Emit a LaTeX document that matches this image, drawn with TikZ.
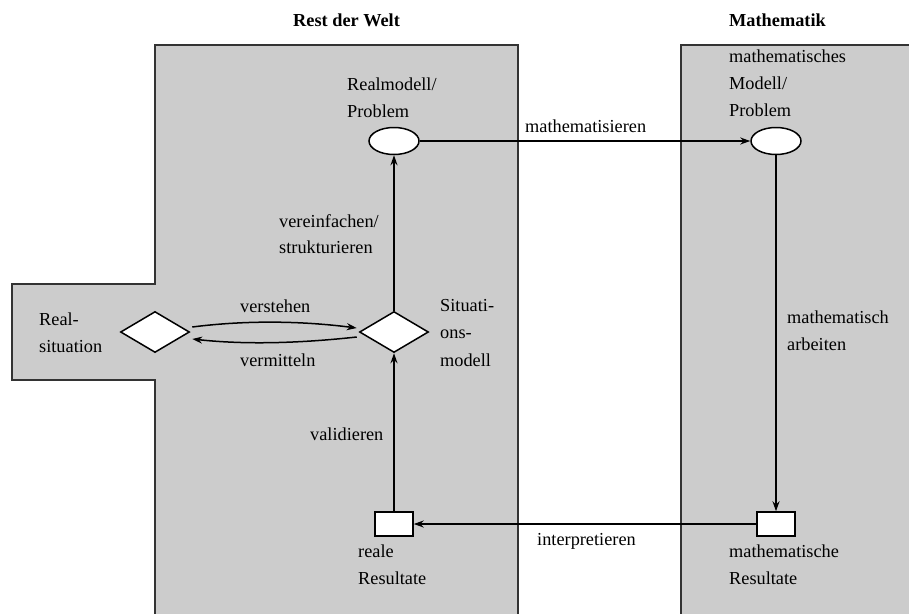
\documentclass[tikz,border=0pt]{standalone}
\usepackage{fontspec}
\setmainfont{Liberation Serif}
\usetikzlibrary{shapes.geometric,arrows.meta,calc}
\definecolor{panel}{HTML}{CCCCCC}
\definecolor{edge}{HTML}{333333}
\begin{document}
\begin{tikzpicture}[x=1pt,y=-1pt,
  font=\fontsize{18.3}{27}\selectfont,
  panelfill/.style={fill=panel},
  paneledge/.style={draw=edge,line width=1.8pt},
  ell/.style={ellipse,draw,fill=white,line width=1.5pt,minimum width=50pt,minimum height=27pt,inner sep=0pt},
  dia/.style={diamond,draw,fill=white,line width=1.5pt,minimum width=69pt,minimum height=41pt,inner sep=0pt},
  res/.style={rectangle,draw,fill=white,line width=1.5pt,minimum width=38pt,minimum height=24pt,inner sep=0pt},
  arr/.style={line width=1.5pt,-{Stealth[length=10pt,width=7pt]}},
  lbl/.style={anchor=base west,inner sep=0pt}]
\useasboundingbox (0,0) rectangle (909,613);
\clip (0,0) rectangle (909,613);
% panels
\fill[panelfill] (155,630) -- (155,380) -- (12,380) -- (12,284) -- (155,284) -- (155,45) -- (518,45) -- (518,630) -- cycle;
\draw[paneledge] (155,630) -- (155,380) -- (12,380) -- (12,284) -- (155,284) -- (155,45) -- (518,45) -- (518,630);
\fill[panelfill] (681,630) -- (681,45) -- (930,45) -- (930,630) -- cycle;
\draw[paneledge] (681,630) -- (681,45) -- (930,45);
% titles
\node[lbl] (tRW) at (293,27) {\bfseries Rest der Welt};
\node[lbl] (tM) at (729,27) {\bfseries Mathematik};
% shapes
\node[ell] (rm) at (394,141) {};
\node[ell] (mm) at (776,141) {};
\node[dia] (rs) at (155,332) {};
\node[dia] (sm) at (394,332) {};
\node[res] (rr) at (394,524) {};
\node[res] (mr) at (776,524) {};
% connectors
\draw[arr] (rm) -- (mm);
\draw[arr] (mm) -- (mr);
\draw[arr] (mr) -- (rr);
\draw[arr] (rr) -- (sm);
\draw[arr] (sm) -- (rm);
\draw[arr] ([shift={(2,-5)}]rs.east) .. controls +(55,-7) and +(-55,-7) .. ([shift={(-2,-4)}]sm.west);
\draw[arr] ([shift={(-2,5)}]sm.west) .. controls +(-55,6) and +(55,6) .. ([shift={(2,7)}]rs.east);
% labels
\node[lbl] (l1a) at (347,90) {Realmodell/};
\node[lbl] (l1b) at (347,117) {Problem};
\node[lbl] (l2a) at (729,62) {mathematisches};
\node[lbl] (l2b) at (729,89) {Modell/};
\node[lbl] (l2c) at (729,116) {Problem};
\node[lbl] (l3) at (525,132) {mathematisieren};
\node[lbl] (l4a) at (279,227) {vereinfachen/};
\node[lbl] (l4b) at (279,253) {strukturieren};
\node[lbl] (l5a) at (39,325) {Real-};
\node[lbl] (l5b) at (39,352) {situation};
\node[lbl] (l6a) at (240,312) {verstehen};
\node[lbl] (l6b) at (240,366) {vermitteln};
\node[lbl] (l7a) at (440,311) {Situati-};
\node[lbl] (l7b) at (440,338) {ons-};
\node[lbl] (l7c) at (440,366) {modell};
\node[lbl] (l8a) at (787,323) {mathematisch};
\node[lbl] (l8b) at (787,350) {arbeiten};
\node[lbl] (l9) at (310,440) {validieren};
\node[lbl] (l10) at (537,545) {interpretieren};
\node[lbl] (l11a) at (358,557) {reale};
\node[lbl] (l11b) at (358,584) {Resultate};
\node[lbl] (l12a) at (729,557) {mathematische};
\node[lbl] (l12b) at (729,584) {Resultate};
\end{tikzpicture}
\end{document}
